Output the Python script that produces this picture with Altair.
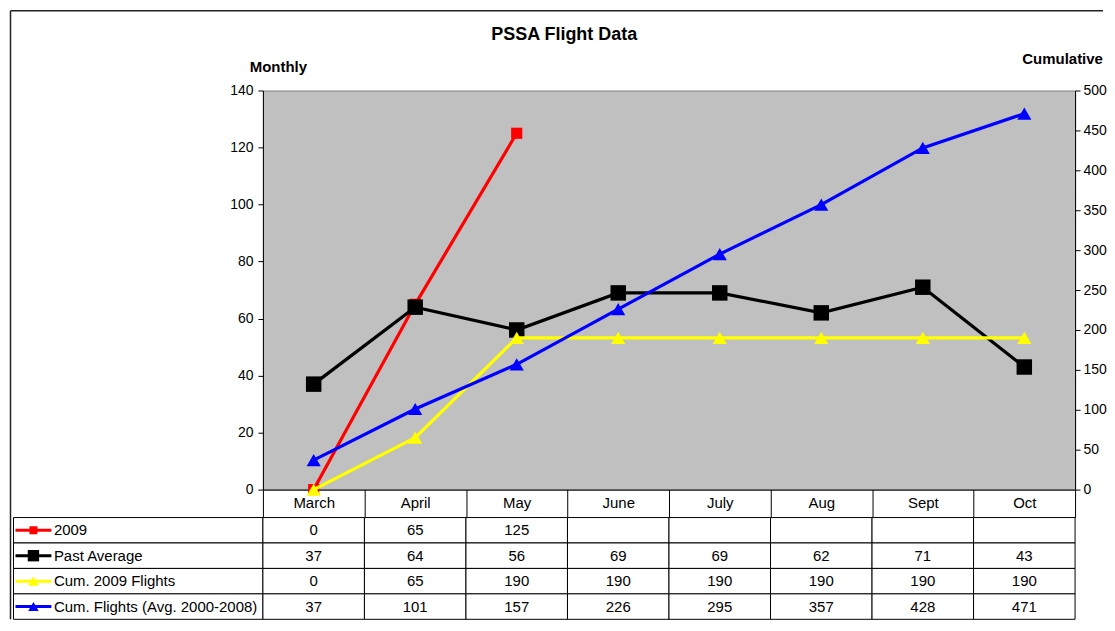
import altair as alt
import pandas as pd

FONT = "Liberation Sans"

chart_title = "PSSA Flight Data"
months = ["March", "April", "May", "June", "July", "Aug", "Sept", "Oct"]
flights_2009 = [0, 65, 125, None, None, None, None, None]
past_average = [37, 64, 56, 69, 69, 62, 71, 43]
cum_2009 = [0, 65, 190, 190, 190, 190, 190, 190]
cum_avg = [37, 101, 157, 226, 295, 357, 428, 471]
series_names = ["2009", "Past Average", "Cum. 2009 Flights", "Cum. Flights (Avg. 2000-2008)"]
series_colors = ["#FF0000", "#000000", "#FFFF00", "#0000FF"]
series_shapes = ["square", "square", "triangle-up", "triangle-up"]
monthly_ticks = [0, 20, 40, 60, 80, 100, 120, 140]
cum_ticks = [0, 50, 100, 150, 200, 250, 300, 350, 400, 450, 500]

df = pd.DataFrame({
    "month": months,
    "f2009": flights_2009,
    "past": past_average,
    "cum2009": cum_2009,
    "cumavg": cum_avg,
})

x_scale = alt.Scale(domain=months, paddingInner=0, paddingOuter=0)
x_top = alt.X(
    "month:N", sort=months, scale=x_scale,
    axis=alt.Axis(
        title=None, orient="bottom", labelAngle=0, labelFontSize=15, labelColor="black",
        domainColor="black", tickColor="black", tickBand="extent", tickSize=28,
        labelPadding=-15, labelBaseline="middle", labelOverlap=False, grid=False,
    ),
)

monthly_scale = alt.Scale(domain=[0, 140], nice=False, zero=True)
cum_scale = alt.Scale(domain=[0, 500], nice=False, zero=True)

left_axis = alt.Axis(
    orient="left", values=monthly_ticks, grid=False, labelFontSize=14, labelColor="black",
    tickSize=5, labelPadding=5, domainColor="black", tickColor="black",
    title="Monthly", titleAngle=0, titleX=15, titleY=-24, titleAlign="center",
    titleBaseline="middle", titleFontSize=15, titleFontWeight="bold", titleColor="black",
)
right_axis = alt.Axis(
    orient="right", values=cum_ticks, grid=False, labelFontSize=14, labelColor="black",
    tickSize=5, labelPadding=3, domainColor="black", tickColor="black",
    title="Cumulative", titleAngle=0, titleX=-13, titleY=-32, titleAlign="center",
    titleBaseline="middle", titleFontSize=15, titleFontWeight="bold", titleColor="black",
)


def series_layers(field, color, shape, size, scale, axis):
    base = alt.Chart(df)
    y = alt.Y(f"{field}:Q", scale=scale, axis=axis)
    line = base.mark_line(color=color, strokeWidth=3.2).encode(x=x_top, y=y)
    pts = base.mark_point(shape=shape, filled=True, size=size, color=color, opacity=1).encode(x=x_top, y=y)
    return [line, pts]


monthly = alt.layer(
    *series_layers("f2009", series_colors[0], series_shapes[0], 125, monthly_scale, left_axis),
    *series_layers("past", series_colors[1], series_shapes[1], 240, monthly_scale, left_axis),
)
cumulative = alt.layer(
    *series_layers("cum2009", series_colors[2], series_shapes[2], 200, cum_scale, right_axis),
    *series_layers("cumavg", series_colors[3], series_shapes[3], 200, cum_scale, right_axis),
)

one = pd.DataFrame({"t": [chart_title]})
title_mark = alt.Chart(one).mark_text(
    fontSize=18, fontWeight="bold", font=FONT, align="center", baseline="middle", color="black"
).encode(text="t:N", x=alt.value(302), y=alt.value(-56))
border_top = alt.Chart(one).mark_rule(color="#222222", strokeWidth=1.5).encode(
    x=alt.value(-253), x2=alt.value(842), y=alt.value(-80))
border_left = alt.Chart(one).mark_rule(color="#222222", strokeWidth=1.5).encode(
    x=alt.value(-253), y=alt.value(-80), y2=alt.value(530))

top = alt.layer(monthly, cumulative, title_mark, border_top, border_left).resolve_scale(
    y="independent"
).properties(
    width=814, height=400,
    view=alt.ViewBackground(fill="#C0C0C0", stroke="#808080", strokeWidth=1),
)

# ---- data table ----
series_values = [flights_2009, past_average, cum_2009, cum_avg]
table_rows = []
for name, vals in zip(series_names, series_values):
    for m, v in zip(months, vals):
        table_rows.append({"row": name, "month": m, "value": "" if v is None else str(v)})
table_df = pd.DataFrame(table_rows)
keys_df = pd.DataFrame({"row": series_names})

row_scale = alt.Scale(domain=series_names, paddingInner=0, paddingOuter=0)
x_tab = alt.X("month:N", sort=months, scale=x_scale, axis=None)
y_tab = alt.Y(
    "row:N", sort=series_names, scale=row_scale,
    axis=alt.Axis(
        orient="left", title=None, ticks=False, domain=False, labelAlign="left",
        labelPadding=210, labelFontSize=15, labelColor="black", labelLimit=260,
        labelBaseline="middle",
    ),
)
y_key = alt.Y("row:N", sort=series_names, scale=row_scale, bandPosition=0.5)

cells = alt.Chart(table_df).mark_rect(fill="white", stroke="black", strokeWidth=1).encode(
    x=x_tab, y=y_tab)
texts = alt.Chart(table_df).mark_text(fontSize=15, font=FONT, color="black").encode(
    x=x_tab, y=y_tab, text="value:N")
label_cells = alt.Chart(keys_df).mark_rect(fill="white", stroke="black", strokeWidth=1).encode(
    x=alt.value(-250), x2=alt.value(0), y=y_tab)

key_layers = []
key_sizes = [64, 130, 110, 110]
for name, color, shape, size in zip(series_names, series_colors, series_shapes, key_sizes):
    kb = alt.Chart(keys_df).transform_filter(alt.datum.row == name)
    key_layers.append(kb.mark_rule(color=color, strokeWidth=3).encode(
        x=alt.value(-248), x2=alt.value(-212), y=y_key))
    key_layers.append(kb.mark_point(shape=shape, filled=True, size=size, color=color, opacity=1).encode(
        x=alt.value(-230), y=y_key))

table = alt.layer(label_cells, cells, texts, *key_layers).properties(
    width=814, height=102,
    view=alt.ViewBackground(fill="white", stroke=None),
)

chart = alt.vconcat(top, table, spacing=28, bounds="flush").properties(
    padding={"left": 0.5, "top": 0, "right": 0, "bottom": 0},
).configure(
    font=FONT, background="white",
).configure_axis(
    labelFont=FONT, titleFont=FONT,
)

chart.save("out.html", embed_options={"renderer": "svg", "actions": False})
